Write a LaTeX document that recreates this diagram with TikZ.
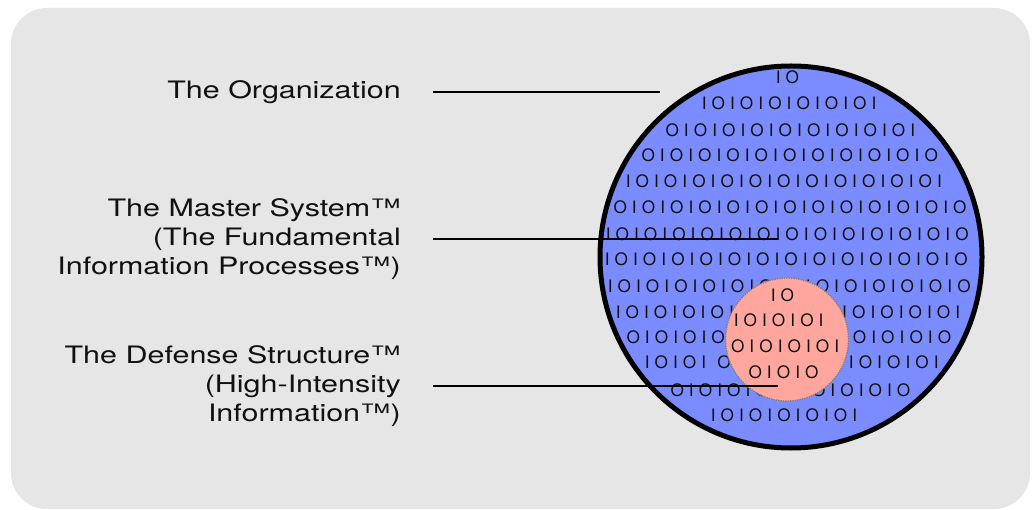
\documentclass[tikz,border=0pt]{standalone}
\usepackage{fontspec}
\newfontfamily\labelfont[FakeStretch=1.27]{TeX Gyre Heros}
\newfontfamily\bitfont{TeX Gyre Heros}

\definecolor{panelgray}{RGB}{230,230,230}
\definecolor{diskblue}{RGB}{122,140,255}
\definecolor{corepink}{RGB}{255,166,158}
\definecolor{inkblack}{RGB}{17,17,17}

% one row of bits, every glyph centred in a cell of fixed pitch; "g" is a small gap
\newlength\bitpitch
\setlength\bitpitch{14.15pt}
\def\bitrow#1{\bitrowA#1\relax}
\def\bitrowA#1{\ifx#1\relax\else\bitglyph#1\expandafter\bitrowA\fi}
\def\bitglyph#1{\ifx#1g\kern6pt\else\makebox[\bitpitch]{#1}\fi}

\begin{document}
\begin{tikzpicture}[x=1pt,y=-1pt,
  caption/.style={inner sep=0pt, anchor=east, align=right, text=inkblack,
    font=\labelfont\fontsize{24}{29.3}\selectfont},
  bits/.style={inner sep=0pt, anchor=west, text=inkblack,
    font=\bitfont\fontsize{17.2}{17.2}\selectfont},
  disk/.style={circle, inner sep=0pt, outer sep=0pt, minimum size=382pt, fill=diskblue},
  rim/.style={draw=black, line width=5pt},
  core/.style={circle, inner sep=0pt, minimum size=123pt, fill=corepink,
    draw=gray, densely dotted, line width=1.4pt},
  leader/.style={draw=black, line width=2.8pt}]

\useasboundingbox (0,0) rectangle (1032,510);
\fill[white] (0,0) rectangle (1032,510);
\fill[panelgray, rounded corners=36pt] (11,8) rectangle (1030,509);

% outer disk: the organization
\node[disk] (orgdisk) at (791,257) {};

% bit rows, positioned by the centre of their first glyph
\node[bits] (r1)  at ({778-7.075},77)  {\bitrow{IO}};
\node[bits] (r2)  at ({704-7.075},103) {\bitrow{IOIOIOIOIOIOI}};
\node[bits] (r3)  at ({672-7.075},130) {\bitrow{OIOIOIOIOIOIOIOIOI}};
\node[bits] (r4)  at ({648-7.075},155) {\bitrow{OIOIOIOIOIOIOIOIOIOIO}};
\node[bits] (r5)  at ({628-7.075},181) {\bitrow{IOIOIOIOIOIOIOIOIOIOIOI}};
\node[bits] (r6)  at ({620-7.075},207) {\bitrow{OIOIOIOIOIOIOIOIOIOIOIOIO}};
\node[bits] (r7)  at ({608-7.075},234) {\bitrow{IOIOIOIOIOIOIOIOIOIOIOIOIO}};
\node[bits] (r8)  at ({607-7.075},259) {\bitrow{IOIOIOIOIOIOIOIOIOIOIOIOIO}};
\node[bits] (r9)  at ({610-7.075},286) {\bitrow{IOIOIOIOIOIOIOIOIOIOIOIOIO}};
\node[bits] (r10) at ({618-7.075},312) {\bitrow{IOIOIOIOIOIOIOIOIOIOIOIOI}};
\node[bits] (r11) at ({633-7.075},337) {\bitrow{OIOIOIOIOIOIOIOIOIOIOIO}};
\node[bits] (r12) at ({647-7.075},362) {\bitrow{IOIOIgOIOIOIOIOIOIOIOI}};
\node[bits] (r13) at ({677-7.075},390) {\bitrow{OIOIOIOIOIOIOIOIO}};
\node[bits] (r14) at ({713-7.075},415) {\bitrow{IOIOIOIOIOI}};

\draw[rim] (orgdisk.center) circle[radius=191pt];

% inner core: the defense structure
\node[core] (core) at (787,339.5) {};
\node[bits] (c1) at ({773-7.075},295) {\bitrow{IO}};
\node[bits] (c2) at ({736-7.075},320) {\bitrow{IOIOIOI}};
\node[bits] (c3) at ({737.5-7.075},346) {\bitrow{OIOIOIOI}};
\node[bits] (c4) at ({755-7.075},372) {\bitrow{OIOIO}};

% captions
\node[caption] (org) at (401,92) {The Organization};
\node[caption] (master) at (401,239) {The Master System™\\(The Fundamental\\Information Processes™)};
\node[caption] (defense) at (401,386) {The Defense Structure™\\(High-Intensity\\Information™)};

% leader lines
\coordinate (orgtip) at (660,92);
\coordinate (mastertip) at (778,239);
\coordinate (defensetip) at (778,386);
\draw[leader] ([xshift=32pt]org.east) -- (orgtip);
\draw[leader] ([xshift=32pt]master.east) -- (mastertip);
\draw[leader] ([xshift=32pt]defense.east) -- (defensetip);
\end{tikzpicture}
\end{document}
